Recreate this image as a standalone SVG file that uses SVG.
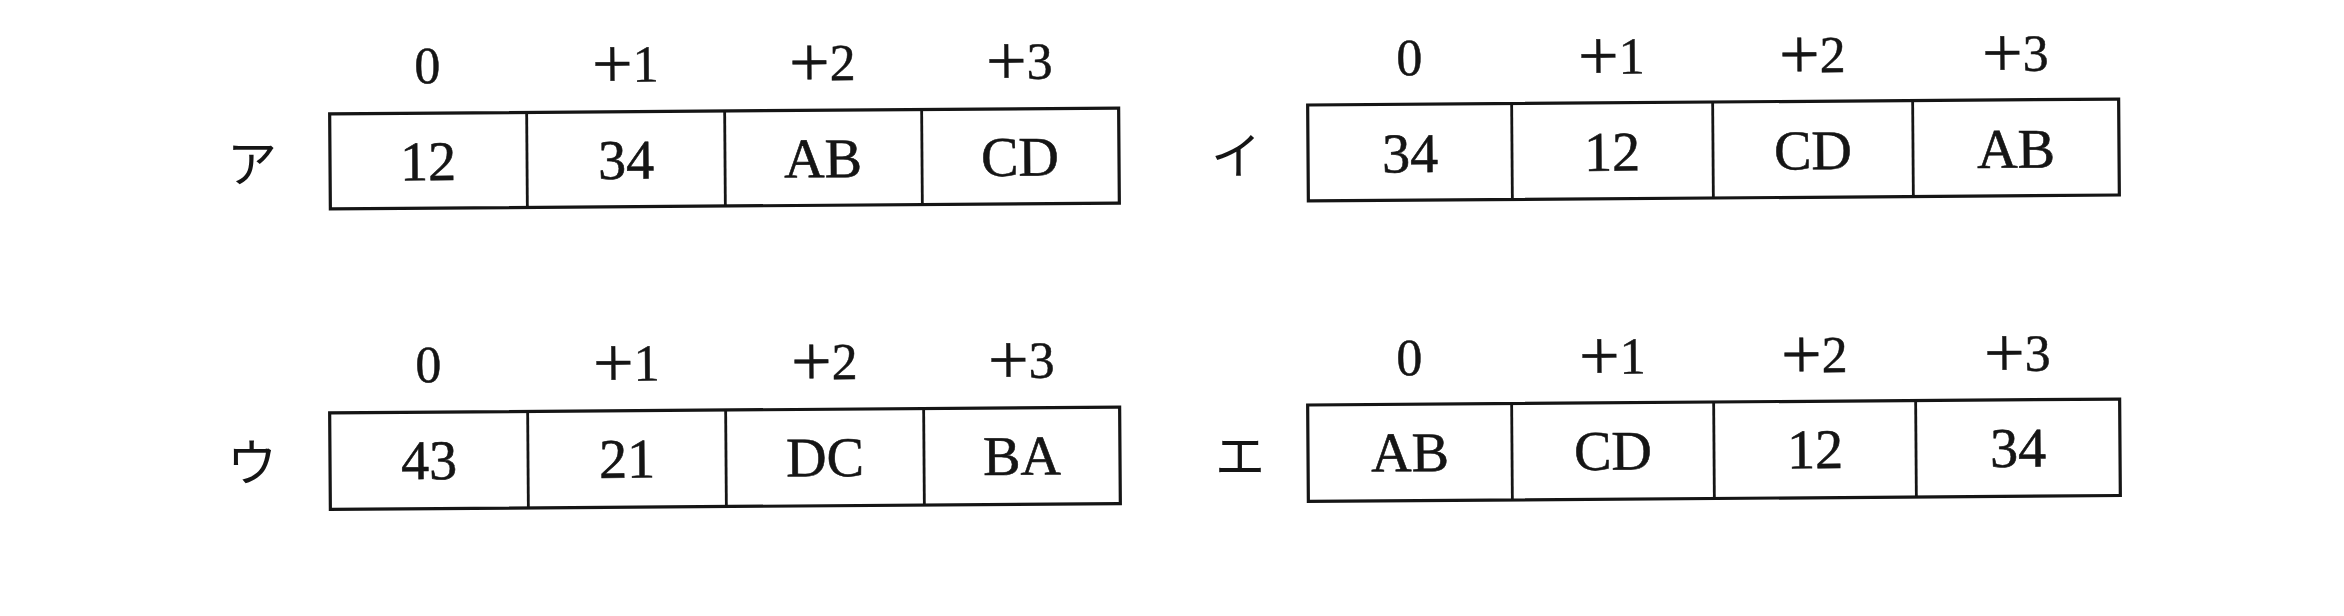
<svg xmlns="http://www.w3.org/2000/svg" width="2344" height="616" viewBox="0 0 2344 616">
<style>
.bx{fill:none;stroke:#151515;stroke-width:3.2}
.dv{stroke:#151515;stroke-width:2.8}
.hd{font-family:"Liberation Serif","Times New Roman",serif;font-size:52px;fill:#151515;text-anchor:middle;stroke:#151515;stroke-width:0.5}
.pl{font-size:72px}
.cl{font-family:"Liberation Serif","Times New Roman",serif;font-size:56px;fill:#151515;text-anchor:middle;stroke:#151515;stroke-width:0.6}
.rl{font-family:"Noto Sans CJK JP","Noto Sans CJK SC",sans-serif;font-size:50px;fill:#151515;text-anchor:middle}
</style>
<rect width="2344" height="616" fill="#ffffff"/>

<g id="row-a">
  <text class="rl" x="252" y="182">ア</text>
  <g transform="rotate(-0.42 724.5 158.5)">
    <rect class="bx" x="330" y="111" width="789" height="95"/>
    <line class="dv" x1="527" y1="111" x2="527" y2="206"/>
    <line class="dv" x1="725" y1="111" x2="725" y2="206"/>
    <line class="dv" x1="922" y1="111" x2="922" y2="206"/>
    <text class="hd" x="428" y="81">0</text>
    <text class="hd" x="626" y="81"><tspan class="pl" dy="6">+</tspan><tspan dy="-6">1</tspan></text>
    <text class="hd" x="823" y="81"><tspan class="pl" dy="6">+</tspan><tspan dy="-6">2</tspan></text>
    <text class="hd" x="1020" y="81"><tspan class="pl" dy="6">+</tspan><tspan dy="-6">3</tspan></text>
    <text class="cl" x="428" y="178">12</text>
    <text class="cl" x="626" y="178">34</text>
    <text class="cl" x="823" y="178">AB</text>
    <text class="cl" x="1020" y="178">CD</text>
  </g>
</g>

<g id="row-i">
  <text class="rl" x="1236" y="174">イ</text>
  <g transform="rotate(-0.42 1713.5 150)">
    <rect class="bx" x="1308" y="102" width="811" height="96"/>
    <line class="dv" x1="1512" y1="102" x2="1512" y2="198"/>
    <line class="dv" x1="1713" y1="102" x2="1713" y2="198"/>
    <line class="dv" x1="1913" y1="102" x2="1913" y2="198"/>
    <text class="hd" x="1410" y="73">0</text>
    <text class="hd" x="1612" y="73"><tspan class="pl" dy="6">+</tspan><tspan dy="-6">1</tspan></text>
    <text class="hd" x="1813" y="73"><tspan class="pl" dy="6">+</tspan><tspan dy="-6">2</tspan></text>
    <text class="hd" x="2016" y="73"><tspan class="pl" dy="6">+</tspan><tspan dy="-6">3</tspan></text>
    <text class="cl" x="1410" y="170">34</text>
    <text class="cl" x="1612" y="170">12</text>
    <text class="cl" x="1813" y="170">CD</text>
    <text class="cl" x="2016" y="170">AB</text>
  </g>
</g>

<g id="row-u">
  <text class="rl" x="252" y="481">ウ</text>
  <g transform="rotate(-0.42 725 458)">
    <rect class="bx" x="330" y="410" width="790" height="96.5"/>
    <line class="dv" x1="528" y1="410" x2="528" y2="506.5"/>
    <line class="dv" x1="726" y1="410" x2="726" y2="506.5"/>
    <line class="dv" x1="924" y1="410" x2="924" y2="506.5"/>
    <text class="hd" x="429" y="380">0</text>
    <text class="hd" x="627" y="380"><tspan class="pl" dy="6">+</tspan><tspan dy="-6">1</tspan></text>
    <text class="hd" x="825" y="380"><tspan class="pl" dy="6">+</tspan><tspan dy="-6">2</tspan></text>
    <text class="hd" x="1022" y="380"><tspan class="pl" dy="6">+</tspan><tspan dy="-6">3</tspan></text>
    <text class="cl" x="429" y="477">43</text>
    <text class="cl" x="627" y="477">21</text>
    <text class="cl" x="825" y="477">DC</text>
    <text class="cl" x="1022" y="477">BA</text>
  </g>
</g>

<g id="row-e">
  <text class="rl" x="1240" y="474">エ</text>
  <g transform="rotate(-0.42 1714 450)">
    <rect class="bx" x="1308" y="402" width="812" height="96.5"/>
    <line class="dv" x1="1512" y1="402" x2="1512" y2="498.5"/>
    <line class="dv" x1="1714" y1="402" x2="1714" y2="498.5"/>
    <line class="dv" x1="1916" y1="402" x2="1916" y2="498.5"/>
    <text class="hd" x="1410" y="373">0</text>
    <text class="hd" x="1613" y="373"><tspan class="pl" dy="6">+</tspan><tspan dy="-6">1</tspan></text>
    <text class="hd" x="1815" y="373"><tspan class="pl" dy="6">+</tspan><tspan dy="-6">2</tspan></text>
    <text class="hd" x="2018" y="373"><tspan class="pl" dy="6">+</tspan><tspan dy="-6">3</tspan></text>
    <text class="cl" x="1410" y="469">AB</text>
    <text class="cl" x="1613" y="469">CD</text>
    <text class="cl" x="1815" y="469">12</text>
    <text class="cl" x="2018" y="469">34</text>
  </g>
</g>
</svg>
